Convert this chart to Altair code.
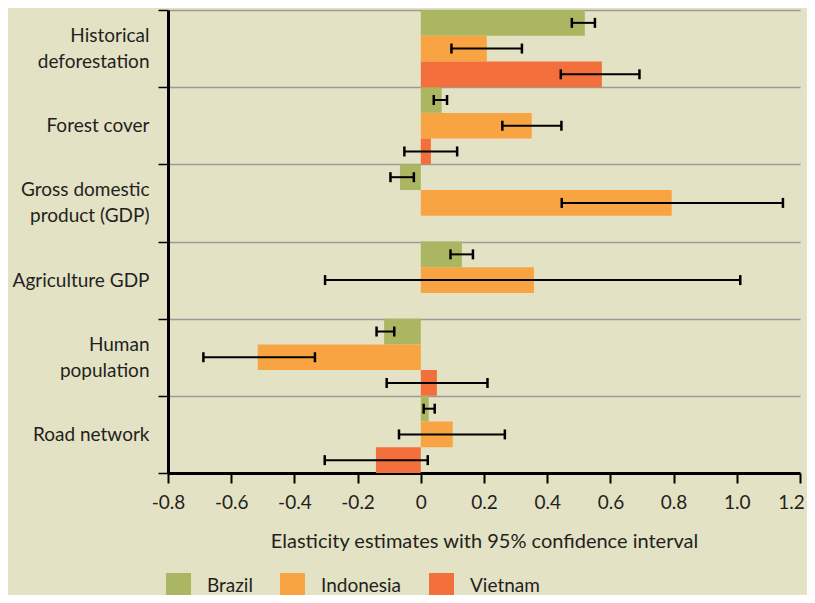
import altair as alt
import pandas as pd

categories = ["Historical deforestation", "Forest cover", "Gross domestic product (GDP)",
              "Agriculture GDP", "Human population", "Road network"]
label_lines = [["Historical", "deforestation"], ["Forest cover"], ["Gross domestic", "product (GDP)"],
               ["Agriculture GDP"], ["Human", "population"], ["Road network"]]
countries = ["Brazil", "Indonesia", "Vietnam"]
colors = ["#abb662", "#f9a443", "#f3703c"]

brazil_est = [0.519, 0.066, -0.066, 0.130, -0.116, 0.025]
brazil_lo = [0.478, 0.041, -0.096, 0.094, -0.140, 0.009]
brazil_hi = [0.551, 0.083, -0.022, 0.165, -0.084, 0.044]
indonesia_est = [0.209, 0.351, 0.794, 0.358, -0.516, 0.101]
indonesia_lo = [0.097, 0.258, 0.446, -0.303, -0.688, -0.069]
indonesia_hi = [0.320, 0.445, 1.146, 1.011, -0.335, 0.266]
vietnam_est = [0.573, 0.032, None, None, 0.051, -0.142]
vietnam_lo = [0.443, -0.052, None, None, -0.108, -0.304]
vietnam_hi = [0.692, 0.115, None, None, 0.211, 0.022]

x_ticks = [-0.8, -0.6, -0.4, -0.2, 0, 0.2, 0.4, 0.6, 0.8, 1.0, 1.2]

series = {
    "Brazil": (brazil_est, brazil_lo, brazil_hi),
    "Indonesia": (indonesia_est, indonesia_lo, indonesia_hi),
    "Vietnam": (vietnam_est, vietnam_lo, vietnam_hi),
}
rows = []
for c in countries:
    est, lo, hi = series[c]
    for i, cat in enumerate(categories):
        if est[i] is None:
            continue
        rows.append({"category": cat, "country": c, "est": est[i], "lo": lo[i], "hi": hi[i]})
df = pd.DataFrame(rows)

FONT = "Lato"
TXT = "#231f20"

# multi-line y labels
expr = "datum.label"
multi = []
for cat, lines in reversed(list(zip(categories, label_lines))):
    arr = "[" + ",".join("'" + l + "'" for l in lines) + "]"
    expr = f"datum.label == '{cat}' ? {arr} : ({expr})"
    if len(lines) > 1:
        multi.append(cat)
multi_test = " || ".join(f"datum.value == '{c}'" for c in multi)

y_enc = alt.Y(
    "category:N", sort=categories,
    scale=alt.Scale(paddingInner=0, paddingOuter=0),
    axis=alt.Axis(title=None, tickBand="extent", grid=True, gridColor="#9b9b95", gridWidth=1.5,
                  domainColor="black", domainWidth=3, tickColor="black", tickSize=10, tickWidth=1.5,
                  labelPadding=9, labelFontSize=19, labelColor=TXT, labelLineHeight=26,
                  labelOffset={"condition": {"test": multi_test, "value": -13}, "value": 0},
                  labelExpr=expr, labelLimit=0, labelFont=FONT),
)
yoff = alt.YOffset("country:N", sort=countries, scale=alt.Scale(paddingInner=0, paddingOuter=0))
x_scale = alt.Scale(domain=[-0.8, 1.2], nice=False, zero=False)

bars = alt.Chart(df).mark_bar(opacity=1).encode(
    x=alt.X("est:Q", scale=x_scale,
            axis=alt.Axis(values=x_ticks, grid=False, domainColor="black", domainWidth=3,
                          tickColor="black", tickSize=10, tickWidth=2, labelFlush=False,
                          labelOffset={"condition": {"test": "datum.value > 1.1", "value": -9}, "value": 0},
                          labelFontSize=19, labelColor=TXT, labelPadding=10, labelFont=FONT,
                          labelExpr="datum.value == 0 ? '0' : (datum.value < 0 ? '-' + format(-datum.value, '.1f') : format(datum.value, '.1f'))",
                          title="Elasticity estimates with 95% confidence interval",
                          titleFontSize=20, titleFontWeight="normal", titleColor=TXT, titleFont=FONT,
                          titlePadding=19)),
    x2=alt.X2(datum=0),
    y=y_enc,
    yOffset=yoff,
    color=alt.Color("country:N", sort=countries,
                    scale=alt.Scale(domain=countries, range=colors),
                    legend=alt.Legend(title=None, orient="none", legendX=-2, legendY=563,
                                      direction="horizontal", symbolType="square", symbolSize=625,
                                      symbolStrokeWidth=0, symbolOpacity=1, labelFontSize=19,
                                      labelColor=TXT, labelOffset=16, columnPadding=27, labelFont=FONT)),
)

err = alt.Chart(df).mark_rule(color="black", strokeWidth=2).encode(
    x=alt.X("lo:Q", scale=x_scale), x2="hi:Q", y=y_enc, yOffset=yoff)
cap_lo = alt.Chart(df).mark_tick(color="black", thickness=2.5, size=10, opacity=1).encode(
    x=alt.X("lo:Q", scale=x_scale), y=y_enc, yOffset=yoff)
cap_hi = alt.Chart(df).mark_tick(color="black", thickness=2.5, size=10, opacity=1).encode(
    x=alt.X("hi:Q", scale=x_scale), y=y_enc, yOffset=yoff)

chart = alt.layer(bars, err, cap_lo, cap_hi).properties(
    width=632, height=463,
    autosize=alt.AutoSizeParams(type="none"),
    padding={"left": 160, "top": 2, "right": 7, "bottom": 122},
    background="#e3e2c5",
).configure_view(stroke=None).configure(font=FONT)

chart.save("out.html", embed_options={"renderer": "svg", "actions": False})
